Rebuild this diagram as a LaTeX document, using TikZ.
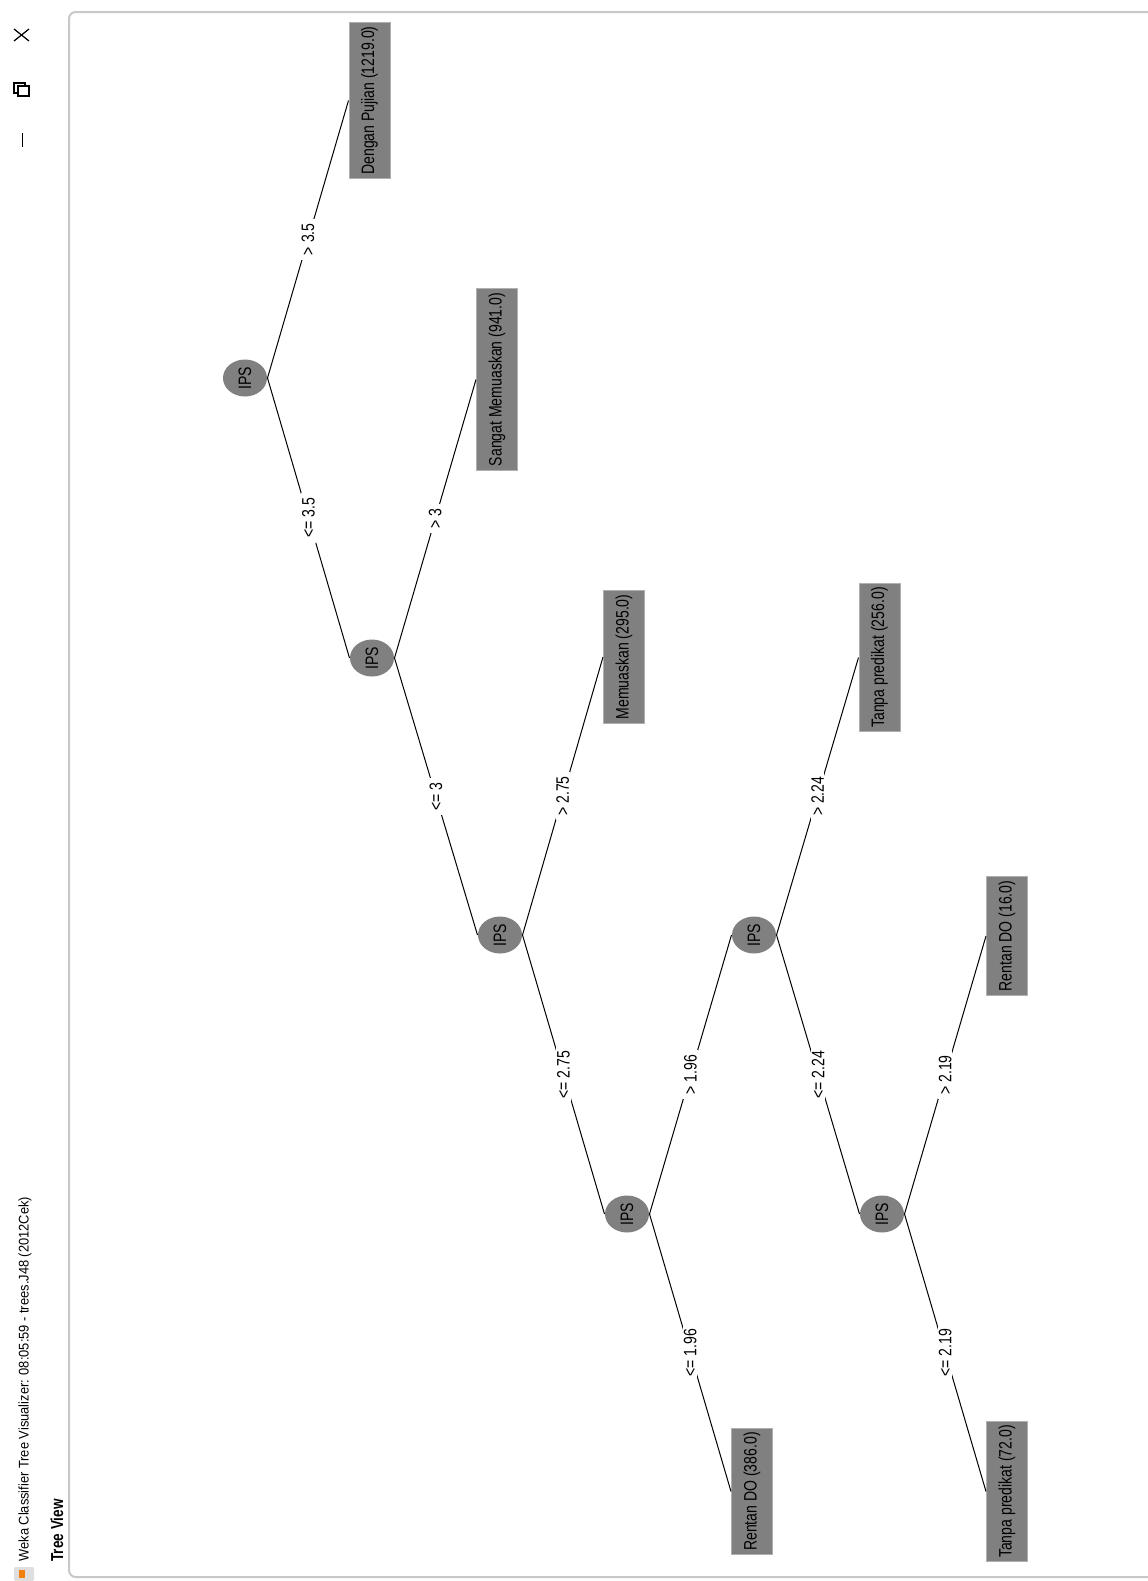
\documentclass[tikz,border=0pt]{standalone}
\usepackage{fontspec}
\setmainfont{Liberation Sans}
\newfontfamily\treefont[FakeStretch=0.78]{Liberation Sans}
\newfontfamily\titlefont[FakeStretch=0.92]{Liberation Sans}
\usetikzlibrary{shapes.geometric}
\definecolor{wekagray}{HTML}{808080}
\definecolor{leafedge}{HTML}{B0B0B0}
\definecolor{panelline}{HTML}{C8C8C8}

\begin{document}
\begin{tikzpicture}[x=0.75pt,y=-0.75pt,line width=0.75pt,
  ips/.style={ellipse,fill=wekagray,rotate=90,inner sep=0pt,
    minimum width=27.75pt,minimum height=33pt,
    font=\treefont\fontsize{13.5}{14}\selectfont},
  leaf/.style={rectangle,fill=wekagray,draw=leafedge,rotate=90,
    inner xsep=3pt,inner ysep=0pt,minimum height=30.75pt,
    font=\treefont\fontsize{13.5}{14}\selectfont},
  cond/.style={fill=white,rotate=90,inner xsep=3.5pt,inner ysep=0.5pt,
    font=\treefont\fontsize{13.5}{14}\selectfont}]
\useasboundingbox (0,0) rectangle (1148,1581);
\fill[white] (0,0) rectangle (1148,1581);
% window frame
\draw[panelline,line width=1.5pt,rounded corners=5] (1148,12) -- (69,12) -- (69,1577) -- (1148,1577);
\node[rotate=90,anchor=west,inner sep=0pt,font=\titlefont\fontsize{10.5}{12}\selectfont] (title)
  at (25,1562) {Weka Classifier Tree Visualizer: 08:05:59 - trees.J48 (2012Cek)};
\node[rotate=90,anchor=west,inner sep=0pt,font=\treefont\bfseries\fontsize{13}{14}\selectfont] (view)
  at (57,1562) {Tree View};
% app icon
\fill[gray!25,rounded corners=1] (14,1567) rectangle (34,1581);
\fill[orange!80!brown] (19,1570) rectangle (25,1578);
% window buttons
\draw[line width=0.9pt] (14,29) -- (29,41) (14,41) -- (29,29);
\draw[line width=0.9pt] (14,83) rectangle (25,93);
\draw[line width=0.9pt,fill=white] (18,86) rectangle (29,96);
\draw[line width=0.9pt] (22.5,133) -- (22.5,147);
% inner nodes
\node[ips] (ips1) at (245,378) {IPS};
\node[ips] (ips2) at (372,658) {IPS};
\node[ips] (ips3) at (500,935) {IPS};
\node[ips] (ips4) at (627,1214) {IPS};
\node[ips] (ips5) at (754,935) {IPS};
\node[ips] (ips6) at (882,1214) {IPS};
% leaves
\node[leaf] (lf1) at (369.5,100.5) {Dengan Pujian (1219.0)};
\node[leaf] (lf2) at (497,379.5) {Sangat Memuaskan (941.0)};
\node[leaf] (lf3) at (624,657) {Memuaskan (295.0)};
\node[leaf] (lf4) at (752,1491.5) {Rentan DO (386.0)};
\node[leaf] (lf5) at (879.5,657.5) {Tanpa predikat (256.0)};
\node[leaf] (lf6) at (1007,936) {Rentan DO (16.0)};
\node[leaf] (lf7) at (1007,1491.5) {Tanpa predikat (72.0)};
% branches
\draw (ips1.south) -- node[cond] {> 3.5} (lf1.north);
\draw (ips1.south) -- node[cond] {<= 3.5} (ips2.north);
\draw (ips2.south) -- node[cond] {> 3} (lf2.north);
\draw (ips2.south) -- node[cond] {<= 3} (ips3.north);
\draw (ips3.south) -- node[cond] {> 2.75} (lf3.north);
\draw (ips3.south) -- node[cond] {<= 2.75} (ips4.north);
\draw (ips4.south) -- node[cond] {> 1.96} (ips5.north);
\draw (ips4.south) -- node[cond] {<= 1.96} (lf4.north);
\draw (ips5.south) -- node[cond] {> 2.24} (lf5.north);
\draw (ips5.south) -- node[cond] {<= 2.24} (ips6.north);
\draw (ips6.south) -- node[cond] {> 2.19} (lf6.north);
\draw (ips6.south) -- node[cond] {<= 2.19} (lf7.north);
\end{tikzpicture}
\end{document}
